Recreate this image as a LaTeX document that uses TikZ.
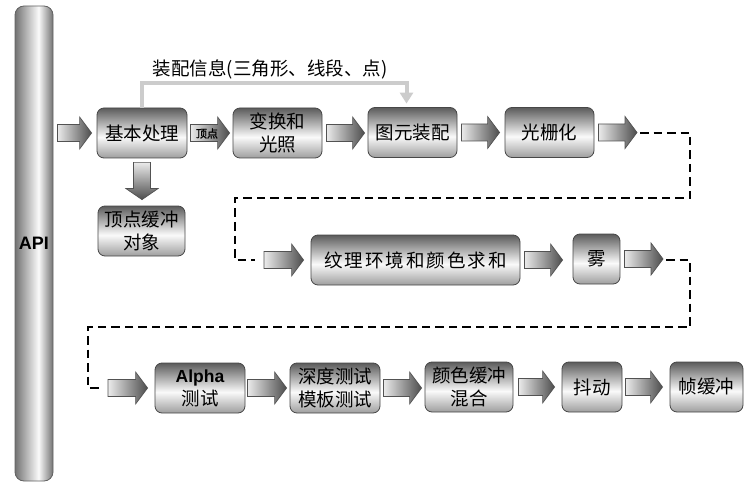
\documentclass[tikz,border=0pt]{standalone}
\usepackage{fontspec}
\usetikzlibrary{calc,arrows.meta}

\newfontfamily\cjk{Noto Sans CJK SC}
\newfontfamily\cjkwide[LetterSpace=11]{Noto Sans CJK SC}
\newfontfamily\cjkbold[FakeBold=1.5]{Noto Sans CJK SC}
\newfontfamily\latn{Liberation Sans}

% colours of the fills
\colorlet{stagetop}{black!64}
\colorlet{stagemid}{black!2}
\colorlet{stagebot}{black!38}
\colorlet{pipeside}{black!55}
\colorlet{pipelight}{black!2}
\colorlet{flowlight}{black!8}
\colorlet{flowdark}{black!70}
\colorlet{infogray}{black!20}

% vertical gloss of the stage boxes (0bp = bottom)
\pgfdeclareverticalshading{stagefill}{100bp}{color(0bp)=(stagebot); color(25bp)=(stagebot); color(46bp)=(stagemid); color(75bp)=(stagetop); color(100bp)=(stagetop)}
% cylinder look of the API pipe
\pgfdeclarehorizontalshading{pipefill}{100bp}{color(0bp)=(pipeside); color(25bp)=(pipeside); color(56bp)=(pipelight); color(75bp)=(pipeside); color(100bp)=(pipeside)}
% block arrows: light tail, dark head
\pgfdeclarehorizontalshading{flowfill}{100bp}{color(0bp)=(flowlight); color(25bp)=(flowlight); color(75bp)=(flowdark); color(100bp)=(flowdark)}
\pgfdeclareverticalshading{flowfilldown}{100bp}{color(0bp)=(flowdark); color(25bp)=(flowdark); color(75bp)=(flowlight); color(100bp)=(flowlight)}

\tikzset{
  tailgap/.store in=\flowtail, tipgap/.store in=\flowtip,
  tailgap=3, tipgap=3,
  stage/.style={draw=black!72, line width=0.8pt, rounded corners=7pt,
    shade, shading=stagefill, minimum height=50pt, inner sep=0pt,
    align=center, font=\cjk\fontsize{18.5}{23}\selectfont},
  pipe/.style={draw=black!62, line width=0.8pt, rounded corners=9pt,
    shade, shading=pipefill, minimum width=38pt, minimum height=475pt,
    inner sep=0pt, font=\latn\bfseries\fontsize{18}{20}\selectfont},
  flow/.style={draw=black!68, line width=0.7pt, shade, shading=flowfill},
  flowv/.style={draw=black!68, line width=0.7pt, shade, shading=flowfilldown},
  tag/.style={inner sep=0pt, font=\cjkbold\fontsize{11}{11}\selectfont},
  linkdash/.style={draw=black, line width=2.4pt, dash pattern=on 8.5pt off 5pt},
  infoline/.style={draw=infogray, line width=4pt,
    -{Triangle[width=13pt,length=11pt]}, shorten >=3.5pt},
  infolabel/.style={inner sep=0pt, font=\cjk\fontsize{18.5}{20}\selectfont},
}

% block arrow pointing right: tail anchor #2, target anchor #3
\newcommand\flowright[3][]{%
  \draw[flow,#1] ($(#2)+(\flowtail,-8.5)$)
    -- ($(#3 |- #2)+(-\flowtip-12,-8.5)$)
    -- ($(#3 |- #2)+(-\flowtip-12,-16)$)
    -- ($(#3 |- #2)+(-\flowtip,0)$)
    -- ($(#3 |- #2)+(-\flowtip-12,16)$)
    -- ($(#3 |- #2)+(-\flowtip-12,8.5)$)
    -- ($(#2)+(\flowtail,8.5)$) -- cycle;}
% block arrow pointing down
\newcommand\flowdown[3][]{%
  \draw[flowv,#1] ($(#2)+(-8.5,\flowtail)$)
    -- ($(#2 |- #3)+(-8.5,-\flowtip-11)$)
    -- ($(#2 |- #3)+(-16,-\flowtip-11)$)
    -- ($(#2 |- #3)+(0,-\flowtip)$)
    -- ($(#2 |- #3)+(16,-\flowtip-11)$)
    -- ($(#2 |- #3)+(8.5,-\flowtip-11)$)
    -- ($(#2)+(8.5,\flowtail)$) -- cycle;}

\begin{document}
\begin{tikzpicture}[x=1pt,y=-1pt]
\useasboundingbox (0,0) rectangle (750,484);

% API pipe
\node[pipe] (api) at (34,243.5) {API};

% first row
\node[stage, minimum width=90pt] (base)  at (142,133)   {基本处理};
\node[stage, minimum width=89pt] (xform) at (277.5,133) {变换和\\光照};
\node[stage, minimum width=89pt] (prim)  at (412.5,132.5) {图元装配};
\node[stage, minimum width=89pt] (rast)  at (549.5,132.5) {光栅化};
\node[stage, minimum width=87pt] (vbo)   at (141.5,231) {顶点缓冲\\对象};

% second row
\node[stage, minimum width=209pt, font=\cjkwide\fontsize{18.5}{23}\selectfont] (texenv) at (415.5,260) {纹理环境和颜色求和};
\node[stage, minimum width=47pt]  (fog)    at (596.5,259) {雾};

% third row
\node[stage, minimum width=90pt] (alpha)  at (200,388) {{\latn\bfseries\fontsize{17.5}{20}\selectfont Alpha}\\测试};
\node[stage, minimum width=90pt] (depth)  at (335,388) {深度测试\\模板测试};
\node[stage, minimum width=88pt] (blend)  at (469,387) {颜色缓冲\\混合};
\node[stage, minimum width=60pt] (dither) at (592,387) {抖动};
\node[stage, minimum width=73pt] (fb)     at (706.5,387) {帧缓冲};

% free ends of the row links
\coordinate (apiout) at (api.east |- base.west);
\coordinate (r1end)   at (640,133);
\coordinate (r2start) at (261,260);
\coordinate (r2end)   at (666,260);
\coordinate (r3start) at (105,388);

% primitive assembly information
\draw[infoline] (base.north) -- ++(0,-25) -| ([xshift=-6pt]prim.north);
\node[infolabel] (infotext) at (270,69) {装配信息(三角形、线段、点)};

% block arrows, first row
\flowright[tailgap=4,tipgap=5]{apiout}{base.west}
\flowright{base.east}{xform.west}
\node[tag] (vtx) at (207,133.5) {顶点};
\flowright[tailgap=4]{xform.east}{prim.west}
\flowright[tailgap=4,tipgap=5]{prim.east}{rast.west}
\flowright[tailgap=4]{rast.east}{r1end}
\flowdown[tailgap=4,tipgap=6]{base.south}{vbo.north}

% second row
\flowright[tipgap=7]{r2start}{texenv.west}
\flowright[tailgap=4,tipgap=10]{texenv.east}{fog.west}
\flowright[tailgap=4]{fog.east}{r2end}

% third row
\flowright[tipgap=7]{r3start}{alpha.west}
\flowright[tailgap=2]{alpha.east}{depth.west}
\flowright{depth.east}{blend.west}
\flowright[tailgap=5,tipgap=7]{blend.east}{dither.west}
\flowright[tipgap=7]{dither.east}{fb.west}

% dashed links between the rows
\draw[linkdash] (r1end) -- ++(50,0) |- ($(r2start)+(-26,-62)$) |- ($(r2start)+(-6,0)$);
\draw[linkdash] (r2end) -- ++(24,0) |- ($(r3start)+(-17,-61)$) |- ($(r3start)+(-2,0)$);
\end{tikzpicture}
\end{document}
